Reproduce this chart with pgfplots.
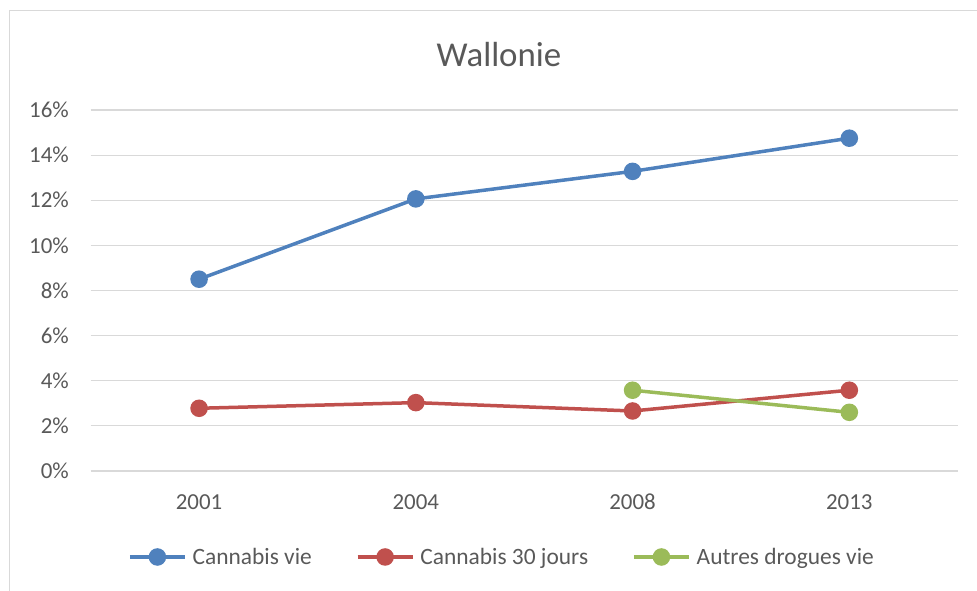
\documentclass[border=0pt]{standalone}
\usepackage{fontspec}
\setmainfont{Carlito}
\usepackage{pgfplots}
\pgfplotsset{compat=1.18}
\definecolor{cblue}{HTML}{4F81BD}
\definecolor{cred}{HTML}{C0504D}
\definecolor{cgreen}{HTML}{9BBB59}
\definecolor{gridc}{HTML}{D9D9D9}
\definecolor{txt}{HTML}{595959}
\begin{document}
\begin{tikzpicture}[x=1bp,y=1bp]
\path[use as bounding box] (0,0) rectangle (977,591);
\draw[gridc, line width=1.5bp] (9.5,0) -- (9.5,580.5) -- (977,580.5);
\node[anchor=base, text=txt, font=\fontsize{35}{42}\selectfont, inner sep=0pt] at (499,524) {Wallonie};
\begin{axis}[
  at={(90.7bp,120bp)}, anchor=south west,
  scale only axis, width=867bp, height=361bp,
  xmin=-0.5, xmax=3.5, ymin=0, ymax=16,
  xtick={0,1,2,3}, xticklabels={2001,2004,2008,2013},
  ytick={0,2,...,16},
  yticklabel={\pgfmathprintnumber{\tick}\%},
  /pgf/number format/assume math mode=true,
  ymajorgrids, major grid style={gridc, line width=1.2bp},
  axis line style={draw=none},
  major tick length=0pt, tick style={draw=none},
  ticklabel style={font=\fontsize{23}{28}\selectfont, text=txt, inner sep=0pt},
  yticklabel style={xshift=-21.7bp},
  xticklabel style={yshift=-23bp},
  clip=false,
  legend columns=3,
  legend style={at={(0.4732,-0.2382)}, anchor=center, draw=none, fill=none,
    inner sep=0pt, font=\fontsize{23.5}{28}\selectfont, text=txt,
    nodes={inner sep=0pt},
    /tikz/every odd column/.append style={column sep=6bp},
    /tikz/every even column/.append style={column sep=44bp}},
  legend image code/.code={\draw[#1,mark repeat=2,mark phase=2] plot coordinates {(0bp,0bp) (27.5bp,0bp) (55bp,0bp)};},
  every axis plot/.append style={line width=3.5bp, mark=*, mark size=7bp, mark options={solid}},
]
\addplot[cblue, mark options={fill=cblue, draw=cblue}] coordinates {(0,8.50) (1,12.06) (2,13.28) (3,14.75)};
\addlegendentry{Cannabis vie}
\addplot[cred, mark options={fill=cred, draw=cred}] coordinates {(0,2.78) (1,3.03) (2,2.66) (3,3.58)};
\addlegendentry{Cannabis 30 jours}
\addplot[cgreen, mark options={fill=cgreen, draw=cgreen}] coordinates {(2,3.58) (3,2.60)};
\addlegendentry{Autres drogues vie}
\end{axis}
\end{tikzpicture}
\end{document}
